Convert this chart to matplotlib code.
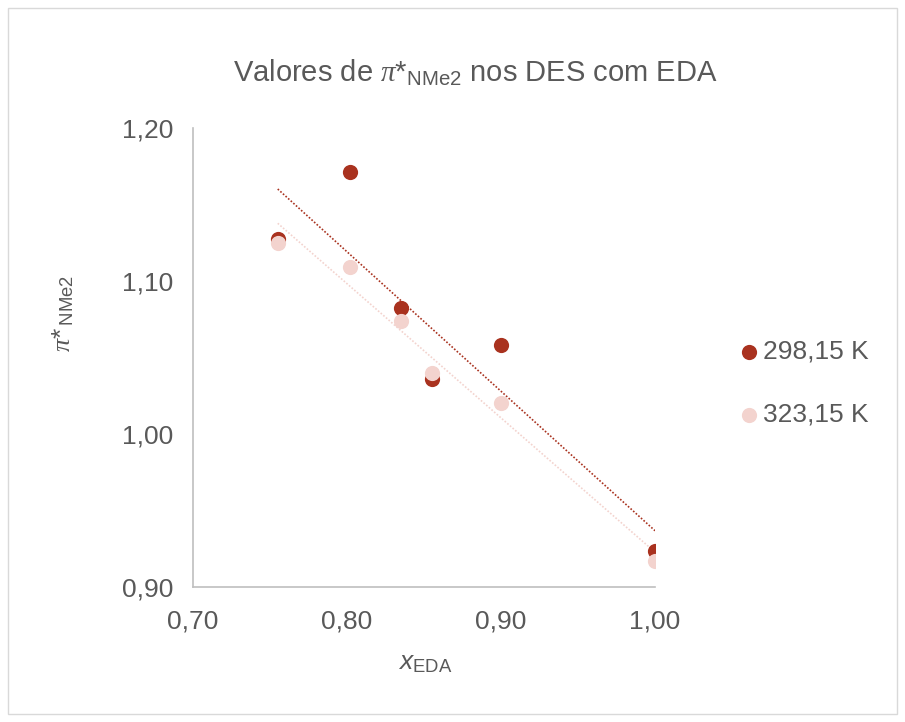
import numpy as np
import matplotlib
matplotlib.use("Agg")
import matplotlib.pyplot as plt
from matplotlib.patches import Rectangle

plt.rcParams['font.family'] = ['Liberation Sans', 'DejaVu Sans']
plt.rcParams['mathtext.fontset'] = 'custom'
plt.rcParams['mathtext.rm'] = 'Liberation Sans'
plt.rcParams['mathtext.it'] = 'Liberation Serif:italic'
plt.rcParams['mathtext.sf'] = 'Liberation Sans:italic'

# fraçao molar de EDA
x_eda = [0.755, 0.802, 0.835, 0.855, 0.900, 1.000]
# pi* NMe2
pi_298 = [1.127, 1.171, 1.082, 1.036, 1.058, 0.924]
pi_323 = [1.125, 1.109, 1.074, 1.040, 1.020, 0.917]

labels = ['298,15 K', '323,15 K']
cores = ['#A9321F', '#F3D3CE']
cinza = '#595959'

fig = plt.figure(figsize=(9.05, 7.22), dpi=100)
ax = fig.add_axes([0.2133, 0.1863, 0.5105, 0.6371])

# borda do grafico
fig.patches.append(Rectangle((0.009, 0.011), 0.982, 0.978, transform=fig.transFigure,
                             fill=False, edgecolor='#D9D9D9', linewidth=1))

xs = np.array(x_eda)
for ys, c in zip([pi_298, pi_323], cores):
    a, b = np.polyfit(xs, ys, 1)
    xl = np.array([xs.min(), xs.max()])
    ax.plot(xl, a * xl + b, color=c, linewidth=1.2, linestyle=(0, (1, 1.1)), zorder=2)

for ys, c, lab in zip([pi_298, pi_323], cores, labels):
    ax.scatter(x_eda, ys, s=120, color=c, label=lab, zorder=3, linewidths=0)

ax.set_xlim(0.70, 1.00)
ax.set_ylim(0.90, 1.20)
ax.set_xticks([0.70, 0.80, 0.90, 1.00])
ax.set_yticks([0.90, 1.00, 1.10, 1.20])
ax.set_xticklabels(['0,70', '0,80', '0,90', '1,00'])
ax.set_yticklabels(['0,90', '1,00', '1,10', '1,20'])
ax.tick_params(length=0, labelsize=19, labelcolor=cinza)
ax.tick_params(axis='y', pad=14)
ax.tick_params(axis='x', pad=16)

for s in ['top', 'right']:
    ax.spines[s].set_visible(False)
for s in ['left', 'bottom']:
    ax.spines[s].set_color('#BFBFBF')
    ax.spines[s].set_linewidth(1.2)

fig.text(475 / 905, 1 - 73 / 722, r'Valores de $\pi$*$_{\mathrm{NMe2}}$ nos DES com EDA',
         fontsize=21, color=cinza, ha='center', va='center')
fig.text(425 / 905, 1 - 663 / 722, r'$\mathsf{x}_{\mathrm{EDA}}$',
         fontsize=19, color=cinza, ha='center', va='center')
fig.text(63 / 905, 1 - 313 / 722, r'$\pi$*$\,_{\mathrm{NMe2}}$', rotation=90,
         fontsize=19, color=cinza, ha='center', va='center')

leg = fig.legend(loc='center left', bbox_to_anchor=(0.813, 0.469), frameon=False,
                 fontsize=19, labelcolor=cinza, handletextpad=0.05, handlelength=1.0,
                 borderpad=0, borderaxespad=0, labelspacing=1.48)

fig.savefig('out.png', dpi=100)
